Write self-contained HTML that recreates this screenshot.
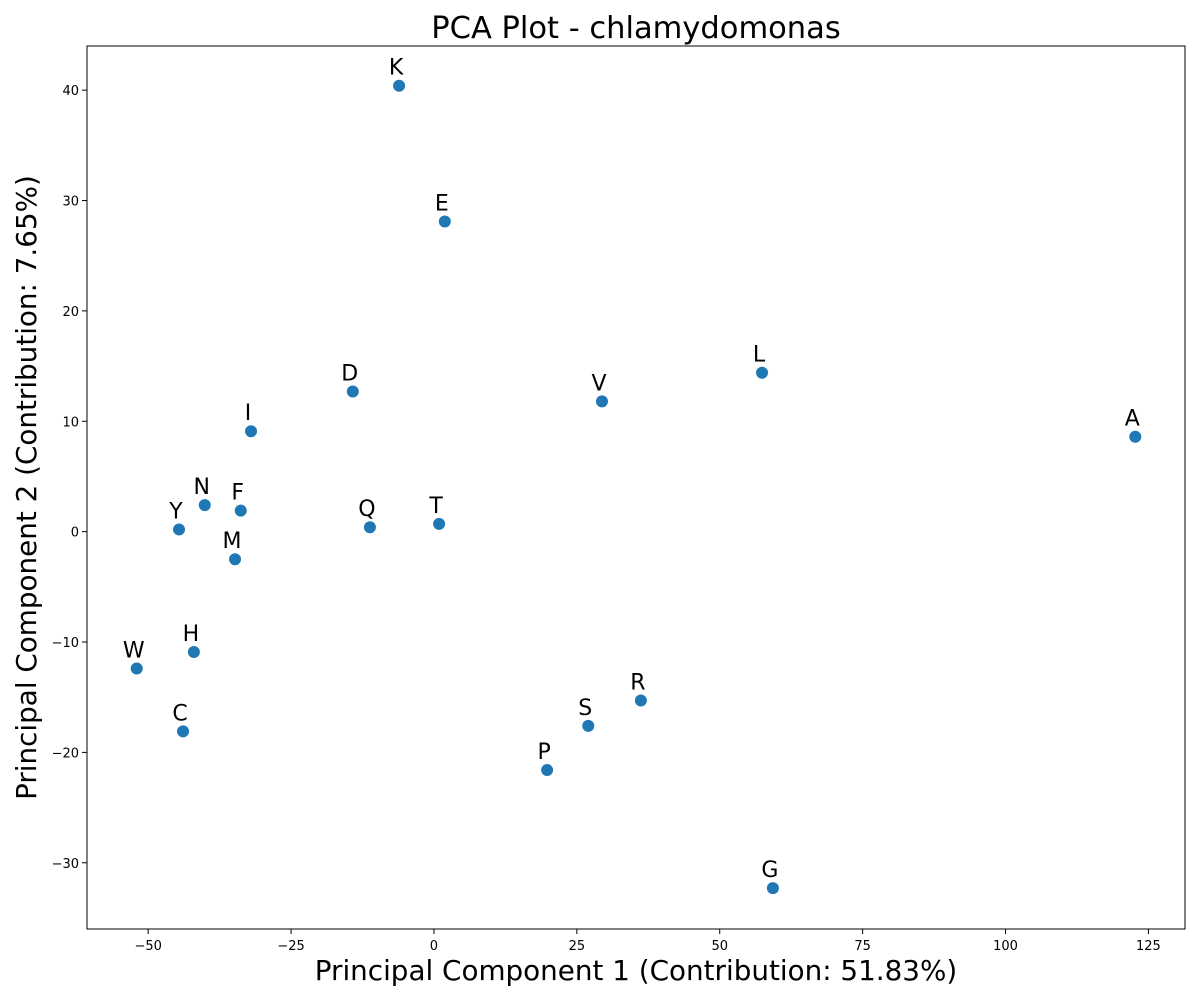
<!DOCTYPE html>
<html><head><meta charset="utf-8"><style>
html,body{margin:0;padding:0;background:#fff;}
svg{display:block;font-family:"DejaVu Sans","Liberation Sans",sans-serif;}
</style></head><body>
<svg id="chart" width="1200" height="1000"></svg>
<script>
const labels=["K","E","D","I","N","F","Y","M","Q","T","V","L","A","W","H","C","R","S","P","G"];
const pc1=[-6.1,1.9,-14.2,-32.0,-40.1,-33.8,-44.6,-34.8,-11.2,0.9,29.4,57.4,122.7,-52.0,-42.0,-43.9,36.2,27.0,19.8,59.3];
const pc2=[40.4,28.1,12.7,9.1,2.4,1.9,0.2,-2.5,0.4,0.7,11.8,14.4,8.6,-12.4,-10.9,-18.1,-15.3,-17.6,-21.6,-32.3];
const xTicks=[-50,-25,0,25,50,75,100,125];
const yTicks=[-30,-20,-10,0,10,20,30,40];

const L=87,R=1185,T=46,B=929;
const xMin=-60.7,xMax=131.4,yMin=-36.0,yMax=44.0;
const sx=v=>L+(v-xMin)/(xMax-xMin)*(R-L);
const sy=v=>B-(v-yMin)/(yMax-yMin)*(B-T);
const svg=document.getElementById('chart');
const NS="http://www.w3.org/2000/svg";
function mk(tag,attrs,text){const e=document.createElementNS(NS,tag);for(const k in attrs)e.setAttribute(k,attrs[k]);if(text!==undefined)e.textContent=text;svg.appendChild(e);return e;}

let e=mk('rect',{x:L,y:T,width:R-L,height:B-T,fill:'none',stroke:'#000','stroke-width':1});



xTicks.forEach(t=>{
  const x=sx(t);
  let l=mk('line',{x1:x,x2:x,y1:B,y2:B+5,stroke:'#000'});
  
  
  let tx=mk('text',{x:x,y:B+21,'font-size':13,'text-anchor':'middle'},t===0?'0':String(t).replace('-','−'));
  
  
});
yTicks.forEach(t=>{
  const y=sy(t);
  let l=mk('line',{x1:L-5,x2:L,y1:y,y2:y,stroke:'#000'});
  
  
  let tx=mk('text',{x:L-8,y:y+5,'font-size':13,'text-anchor':'end'},String(t).replace('-','−'));
  
  
});

labels.forEach((lab,i)=>{
  const x=sx(pc1[i]),y=sy(pc2[i]);
  let c=mk('circle',{cx:x,cy:y,r:6,fill:'#1f77b4'});
  
  
  let t=mk('text',{x:x-3,y:y-11,'font-size':22,'text-anchor':'middle'},lab);
  
  
});

let title=mk('text',{x:(L+R)/2,y:38,'font-size':30.5,'text-anchor':'middle'},'PCA Plot - chlamydomonas');


let xl=mk('text',{x:(L+R)/2,y:980,'font-size':27.8,'text-anchor':'middle'},'Principal Component 1 (Contribution: 51.83%)');


let yl=mk('text',{x:0,y:0,'font-size':27.8,'text-anchor':'middle',transform:'translate(36,'+((T+B)/2)+') rotate(-90)'},'Principal Component 2 (Contribution: 7.65%)');


</script>
</body></html>
